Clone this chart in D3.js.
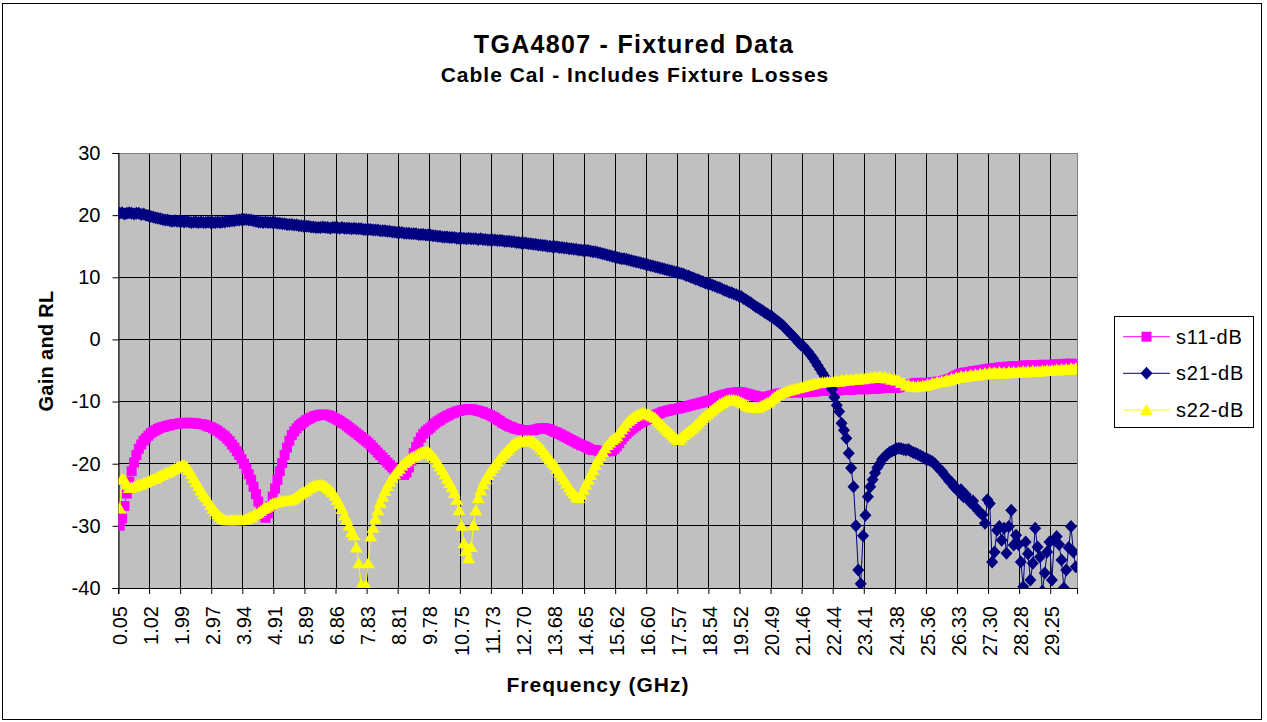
<!DOCTYPE html>
<html><head><meta charset="utf-8">
<script src="https://cdn.jsdelivr.net/npm/d3@7"></script>
<style>
body{margin:0;background:#fff}
svg{display:block}
text{font-family:Arial,"Liberation Sans",sans-serif;fill:#000}
</style>
</head><body>
<svg id="chart" width="1267" height="722"></svg>
<script>
// ---------------- data ----------------
const titleText = "TGA4807 - Fixtured Data";
const subtitleText = "Cable Cal - Includes Fixture Losses";
const xAxisTitle = "Frequency (GHz)";
const yAxisTitle = "Gain and RL";

// frequency labels shown every 13th of the 401 sweep points (GHz)
const tickLabels = ["0.05","1.02","1.99","2.97","3.94","4.91","5.89","6.86","7.83","8.81",
  "9.78","10.75","11.73","12.70","13.68","14.65","15.62","16.60","17.57","18.54",
  "19.52","20.49","21.46","22.44","23.41","24.38","25.36","26.33","27.30","28.28","29.25"];
const labelEvery = 13;
const yTicks = [-40,-30,-20,-10,0,10,20,30];

const seriesNames = ["s11-dB","s21-dB","s22-dB"];

const s11 = [
-30.0,-28.8,-26.8,-24.8,-22.9,-21.2,-19.8,-18.6,-17.6,-16.9,-16.3,-15.9,-15.5,
-15.1,-14.8,-14.6,-14.4,-14.2,-14.1,-14.0,-13.9,-13.8,-13.7,-13.6,-13.6,-13.5,
-13.5,-13.5,-13.4,-13.5,-13.4,-13.5,-13.5,-13.6,-13.6,-13.7,-13.8,-14.0,-14.1,
-14.3,-14.5,-14.7,-15.0,-15.3,-15.6,-16.0,-16.4,-16.9,-17.4,-18.0,-18.6,-19.3,
-20.0,-20.8,-21.7,-22.6,-23.7,-24.9,-26.1,-27.3,-28.3,-28.7,-28.0,-26.8,-25.3,
-24.0,-22.6,-21.2,-19.9,-18.6,-17.4,-16.3,-15.4,-14.8,-14.3,-13.9,-13.6,-13.3,
-13.0,-12.8,-12.6,-12.4,-12.3,-12.2,-12.1,-12.1,-12.1,-12.2,-12.3,-12.5,-12.7,
-12.9,-13.1,-13.4,-13.6,-13.9,-14.2,-14.5,-14.8,-15.1,-15.4,-15.7,-16.0,-16.3,
-16.6,-17.0,-17.4,-17.8,-18.2,-18.6,-19.0,-19.4,-19.8,-20.2,-20.6,-21.0,-21.3,
-21.6,-21.8,-21.8,-21.4,-20.6,-19.5,-18.3,-17.3,-16.5,-15.8,-15.2,-14.8,-14.5,
-14.2,-13.8,-13.5,-13.2,-13.0,-12.7,-12.5,-12.3,-12.1,-11.9,-11.8,-11.6,-11.5,
-11.4,-11.3,-11.3,-11.2,-11.2,-11.3,-11.4,-11.5,-11.6,-11.7,-11.9,-12.0,-12.2,
-12.4,-12.6,-12.9,-13.1,-13.4,-13.6,-13.8,-14.0,-14.1,-14.3,-14.4,-14.5,-14.6,
-14.6,-14.6,-14.6,-14.6,-14.6,-14.5,-14.4,-14.3,-14.3,-14.3,-14.4,-14.5,-14.7,
-14.9,-15.0,-15.2,-15.4,-15.6,-15.8,-16.0,-16.2,-16.4,-16.6,-16.8,-17.0,-17.1,
-17.3,-17.5,-17.7,-17.8,-17.8,-17.9,-18.0,-18.0,-18.1,-18.0,-18.0,-17.9,-17.6,
-17.2,-16.7,-16.1,-15.6,-15.2,-14.8,-14.5,-14.2,-13.9,-13.6,-13.4,-13.2,-13.0,
-12.8,-12.6,-12.4,-12.2,-12.0,-11.9,-11.7,-11.6,-11.5,-11.4,-11.3,-11.2,-11.2,
-11.1,-11.0,-10.9,-10.8,-10.7,-10.6,-10.5,-10.4,-10.3,-10.2,-10.1,-10.0,-9.9,
-9.8,-9.6,-9.4,-9.3,-9.1,-9.0,-8.9,-8.8,-8.7,-8.6,-8.6,-8.5,-8.5,
-8.5,-8.6,-8.7,-8.8,-8.9,-9.0,-9.1,-9.2,-9.3,-9.3,-9.3,-9.2,-9.1,
-9.0,-8.9,-8.8,-8.7,-8.7,-8.6,-8.6,-8.5,-8.5,-8.5,-8.5,-8.5,-8.5,
-8.5,-8.5,-8.4,-8.4,-8.4,-8.4,-8.3,-8.3,-8.3,-8.3,-8.3,-8.2,-8.2,
-8.2,-8.2,-8.2,-8.1,-8.1,-8.1,-8.1,-8.1,-8.0,-8.0,-8.0,-8.0,-8.0,
-8.0,-8.0,-7.9,-7.9,-7.9,-7.9,-7.9,-7.8,-7.8,-7.8,-7.8,-7.8,-7.8,
-7.8,-7.7,-7.6,-7.5,-7.4,-7.3,-7.2,-7.1,-7.0,-7.0,-7.0,-7.0,-7.0,
-7.0,-7.0,-6.9,-6.9,-6.8,-6.8,-6.7,-6.6,-6.5,-6.4,-6.2,-6.0,-5.8,
-5.6,-5.5,-5.4,-5.3,-5.3,-5.2,-5.1,-5.1,-5.0,-5.0,-4.9,-4.8,-4.8,
-4.7,-4.7,-4.6,-4.6,-4.5,-4.5,-4.5,-4.4,-4.4,-4.4,-4.3,-4.3,-4.3,
-4.3,-4.2,-4.2,-4.2,-4.2,-4.2,-4.2,-4.2,-4.1,-4.1,-4.1,-4.1,-4.1,
-4.1,-4.0,-4.1,-4.0,-4.0,-4.0,-3.9,-4.0,-3.9,-4.0,-4.0];

const s21 = [
20.3,20.4,20.2,20.3,20.4,20.3,20.2,20.3,20.3,20.1,20.2,20.0,19.9,
19.8,19.7,19.6,19.5,19.4,19.3,19.2,19.2,19.1,19.0,19.1,19.0,19.0,
19.0,18.9,19.0,18.9,18.8,18.9,18.9,18.8,18.9,18.8,18.8,18.9,18.8,
18.8,18.8,18.9,18.8,18.9,18.9,19.0,19.0,19.1,19.1,19.2,19.2,19.3,
19.3,19.3,19.2,19.2,19.1,19.0,18.9,18.9,18.8,18.9,18.8,18.8,18.8,
18.8,18.7,18.7,18.6,18.6,18.5,18.5,18.5,18.4,18.4,18.3,18.3,18.2,
18.2,18.2,18.1,18.1,18.0,18.0,18.0,18.1,18.0,18.0,17.9,18.0,18.0,
18.0,17.9,18.0,17.9,17.9,17.9,17.8,17.9,17.8,17.8,17.8,17.7,17.7,
17.7,17.7,17.6,17.6,17.6,17.5,17.5,17.5,17.4,17.4,17.3,17.3,17.2,
17.2,17.2,17.1,17.1,17.1,17.0,17.0,17.0,16.9,16.9,16.9,16.8,16.8,
16.8,16.7,16.7,16.6,16.6,16.5,16.5,16.5,16.4,16.4,16.4,16.3,16.3,
16.3,16.3,16.2,16.3,16.2,16.2,16.2,16.1,16.2,16.1,16.1,16.0,16.0,
16.0,16.0,15.9,15.9,15.9,15.8,15.8,15.8,15.7,15.7,15.6,15.6,15.5,
15.5,15.5,15.4,15.4,15.3,15.3,15.2,15.2,15.1,15.1,15.0,15.0,14.9,
14.9,14.9,14.8,14.8,14.7,14.7,14.6,14.6,14.5,14.5,14.4,14.4,14.3,
14.3,14.3,14.2,14.1,14.1,14.0,13.9,13.8,13.7,13.6,13.5,13.4,13.3,
13.2,13.1,13.0,13.0,12.9,12.8,12.7,12.6,12.5,12.4,12.3,12.2,12.1,
12.0,11.9,11.8,11.7,11.6,11.5,11.4,11.3,11.2,11.1,11.0,10.9,10.8,
10.7,10.6,10.5,10.3,10.2,10.0,9.9,9.7,9.6,9.4,9.3,9.1,9.0,
8.9,8.7,8.6,8.4,8.3,8.1,7.9,7.8,7.6,7.5,7.3,7.2,7.0,
6.9,6.6,6.4,6.1,5.9,5.6,5.3,5.1,4.8,4.6,4.3,4.1,3.8,
3.6,3.3,3.0,2.7,2.4,2.0,1.6,1.2,0.8,0.4,0.0,-0.5,-0.9,
-1.1,-1.6,-2.0,-2.5,-3.0,-3.6,-4.2,-4.8,-5.4,-6.0,-6.6,-7.3,-8.0,
-9.3,-10.6,-11.6,-13.5,-14.6,-15.9,-18.3,-20.7,-23.7,-30.0,-37.1,-39.3,-31.6,
-28.3,-25.3,-23.7,-22.6,-21.5,-20.6,-20.0,-19.3,-18.9,-18.5,-18.2,-18.0,-17.8,
-17.6,-17.5,-17.6,-17.7,-17.8,-17.7,-18.0,-18.2,-18.3,-18.5,-18.7,-18.9,-19.2,
-19.3,-19.5,-19.7,-20.0,-20.5,-20.9,-21.2,-21.8,-22.2,-22.8,-23.0,-23.7,-23.9,
-24.5,-24.2,-25.3,-25.0,-25.8,-26.3,-26.0,-27.0,-27.5,-27.9,-28.2,-29.6,-25.8,
-26.4,-35.8,-34.2,-30.7,-30.1,-32.3,-30.4,-34.4,-30.1,-27.5,-33.1,-31.5,-33.0,
-35.8,-39.8,-32.6,-34.5,-38.7,-36.0,-30.4,-33.4,-35.0,-40.5,-37.6,-34.2,-32.6,
-38.7,-32.3,-31.7,-33.0,-35.5,-40.0,-37.1,-33.5,-30.1,-34.2,-36.6];

const s22 = [
-27.2,-22.4,-22.6,-23.4,-23.9,-23.8,-23.7,-23.6,-23.4,-23.3,-23.1,-23.0,-22.8,
-22.6,-22.4,-22.4,-22.1,-21.9,-21.8,-21.5,-21.4,-21.2,-21.0,-20.8,-20.6,-20.4,
-20.2,-20.3,-20.5,-21.0,-21.6,-22.3,-23.0,-23.6,-24.3,-24.9,-25.4,-26.0,-26.6,
-27.2,-27.7,-28.1,-28.5,-28.8,-29.0,-29.1,-29.1,-29.0,-29.1,-29.0,-29.1,-29.0,
-29.0,-28.9,-28.7,-28.6,-28.3,-28.1,-27.9,-27.6,-27.3,-27.1,-26.9,-26.6,-26.4,
-26.3,-26.2,-26.1,-26.0,-26.0,-25.9,-25.9,-25.8,-25.6,-25.3,-25.0,-24.7,-24.5,
-24.3,-24.0,-23.8,-23.6,-23.5,-23.4,-23.4,-23.5,-23.6,-23.9,-24.2,-24.6,-25.1,
-25.8,-26.5,-27.3,-28.3,-29.0,-30.0,-31.0,-31.5,-33.5,-36.0,-39.5,-40.2,-39.5,
-36.0,-31.7,-30.3,-28.8,-27.5,-26.3,-25.3,-24.4,-23.6,-22.9,-22.2,-21.7,-21.2,
-20.8,-20.3,-19.9,-19.6,-19.3,-19.0,-18.8,-18.6,-18.4,-18.2,-18.1,-18.0,-18.0,
-18.4,-18.8,-19.2,-19.8,-20.4,-21.0,-21.7,-22.4,-23.1,-23.8,-24.7,-25.8,-27.5,
-30.0,-32.8,-34.0,-35.2,-33.4,-29.9,-27.5,-25.5,-24.3,-23.3,-22.5,-21.8,-21.2,
-20.7,-20.2,-19.7,-19.2,-18.7,-18.3,-17.9,-17.5,-17.1,-16.8,-16.6,-16.5,-16.4,
-16.4,-16.3,-16.3,-16.4,-16.4,-16.7,-17.0,-17.4,-17.8,-18.3,-18.8,-19.3,-19.8,
-20.2,-20.8,-21.4,-22.0,-22.6,-23.2,-23.8,-24.3,-24.8,-25.3,-25.5,-25.0,-24.2,
-23.4,-22.6,-21.8,-21.0,-20.2,-19.4,-18.7,-18.1,-17.5,-17.0,-16.6,-16.2,-15.9,
-15.6,-15.0,-14.5,-14.0,-13.5,-13.1,-12.8,-12.5,-12.3,-12.1,-11.9,-11.8,-11.9,
-12.0,-12.2,-12.4,-12.6,-13.0,-13.4,-13.8,-14.2,-14.6,-14.9,-15.3,-15.7,-16.0,
-16.2,-15.8,-15.4,-15.1,-14.8,-14.5,-14.2,-13.8,-13.4,-13.0,-12.6,-12.3,-12.0,
-11.6,-11.3,-11.0,-10.7,-10.4,-10.2,-10.0,-9.8,-9.7,-9.7,-9.7,-9.8,-9.9,
-10.1,-10.3,-10.6,-10.8,-10.9,-11.0,-11.0,-11.0,-10.8,-10.6,-10.4,-10.2,-10.0,
-9.6,-9.3,-9.0,-8.8,-8.6,-8.5,-8.3,-8.2,-8.1,-8.0,-7.9,-7.8,-7.7,
-7.6,-7.5,-7.4,-7.3,-7.2,-7.1,-7.0,-7.0,-6.9,-6.9,-6.8,-6.8,-6.8,
-6.8,-6.6,-6.8,-6.5,-6.7,-6.4,-6.6,-6.4,-6.5,-6.3,-6.5,-6.2,-6.4,
-6.2,-6.3,-6.1,-6.2,-6.0,-6.1,-5.9,-6.2,-6.0,-6.3,-6.2,-6.5,-6.3,
-6.6,-6.6,-7.0,-7.0,-7.4,-7.3,-7.6,-7.5,-7.7,-7.5,-7.6,-7.4,-7.5,
-7.2,-7.3,-7.0,-7.1,-6.8,-6.9,-6.7,-6.8,-6.5,-6.6,-6.3,-6.4,-6.1,
-6.2,-5.9,-6.1,-5.8,-6.0,-5.7,-5.9,-5.6,-5.8,-5.5,-5.7,-5.4,-5.6,
-5.3,-5.5,-5.3,-5.5,-5.2,-5.5,-5.3,-5.5,-5.2,-5.4,-5.2,-5.4,-5.2,
-5.3,-5.1,-5.3,-5.1,-5.3,-5.0,-5.2,-5.1,-5.2,-5.0,-5.1,-4.9,-5.1,
-4.9,-5.0,-4.8,-5.0,-4.8,-4.9,-4.7,-4.9,-4.6,-4.8,-4.6];

// ---------------- drawing ----------------
const colors = ["#FF00FF","#000080","#FFFF00"];
const markers = {
  square: "M-5,-5L5,-5L5,5L-5,5Z",
  diamond: "M0,-6.5L6,0L0,6.5L-6,0Z",
  triangle: "M0,-6L6.5,5L-6.5,5Z"
};
const markerOf = ["square","diamond","triangle"];
const seriesData = [s11, s21, s22];

const plot = {left:118.5, right:1077, top:153, bottom:588};
const svg = d3.select("#chart");

// chart area border
svg.append("rect").attr("x",2.5).attr("y",3.5).attr("width",1259).attr("height",716)
  .attr("fill","#fff").attr("stroke","#000").attr("stroke-width",1);

const idx = d3.range(s11.length);
const x = d3.scaleBand().domain(idx).range([plot.left, plot.right]).padding(0);
const cx = i => x(i) + x.bandwidth()/2;
const y = d3.scaleLinear().domain([-40,30]).range([plot.bottom, plot.top]);

// plot background
svg.append("rect").attr("x",plot.left).attr("y",plot.top)
  .attr("width",plot.right-plot.left).attr("height",plot.bottom-plot.top)
  .attr("fill","#C0C0C0");

const tickIdx = tickLabels.map((d,k) => k*labelEvery);

// gridlines
const grid = svg.append("g").attr("stroke","#000").attr("stroke-width",1).attr("shape-rendering","crispEdges");
yTicks.forEach(v => grid.append("line").attr("x1",plot.left).attr("x2",plot.right).attr("y1",y(v)).attr("y2",y(v)));
tickIdx.forEach(i => grid.append("line").attr("x1",x(i)).attr("x2",x(i)).attr("y1",plot.top).attr("y2",plot.bottom));

// plot border
svg.append("rect").attr("x",plot.left).attr("y",plot.top)
  .attr("width",plot.right-plot.left).attr("height",plot.bottom-plot.top)
  .attr("fill","none").attr("stroke","#808080").attr("shape-rendering","crispEdges");

// axes
const yAxis = d3.axisLeft(y).tickValues(yTicks).tickSize(6).tickPadding(12).tickFormat(d => String(d));
const gy = svg.append("g").attr("transform",`translate(${plot.left},0)`).call(yAxis);
gy.select(".domain").attr("stroke","#000");
gy.selectAll(".tick line").attr("stroke","#000");
gy.selectAll("text").attr("font-size",20).attr("font-family","Arial, 'Liberation Sans', sans-serif");

const xAxis = d3.axisBottom(x).tickValues(tickIdx).tickSize(6).tickFormat((d,k)=>tickLabels[k]);
const gx = svg.append("g").attr("transform",`translate(0,${plot.bottom})`).call(xAxis);
gx.select(".domain").attr("stroke","#000");
gx.selectAll(".tick").attr("transform", d => `translate(${x(d)},0)`);
gx.selectAll(".tick line").attr("stroke","#000");
gx.selectAll(".tick text")
  .attr("font-size",20).attr("font-family","Arial, 'Liberation Sans', sans-serif")
  .attr("text-anchor","end").attr("transform","rotate(-90)")
  .attr("x",-18).attr("y",x.bandwidth()/2).attr("dy","0.35em");

// series
svg.append("clipPath").attr("id","pc").append("rect")
  .attr("x",plot.left).attr("y",plot.top).attr("width",plot.right-plot.left).attr("height",plot.bottom-plot.top);
const line = d3.line().x((d,i)=>cx(i)).y(d=>y(d));
const gs = svg.append("g").attr("clip-path","url(#pc)");
seriesData.forEach((data,s) => {
  const g = gs.append("g");
  g.append("path").datum(data).attr("d",line).attr("fill","none")
    .attr("stroke",colors[s]).attr("stroke-width",1);
  g.selectAll("path.m").data(data).enter().append("path").attr("class","m")
    .attr("d",markers[markerOf[s]])
    .attr("transform",(d,i)=>`translate(${cx(i)},${y(d)})`)
    .attr("fill",colors[s]);
});

// titles
svg.append("text").attr("x",634).attr("y",53).attr("text-anchor","middle")
  .attr("font-size",25).attr("font-weight","bold").attr("letter-spacing",1.3).text(titleText);
svg.append("text").attr("x",635).attr("y",82).attr("text-anchor","middle")
  .attr("font-size",21).attr("font-weight","bold").attr("letter-spacing",1.0).text(subtitleText);
svg.append("text").attr("x",598).attr("y",692).attr("text-anchor","middle")
  .attr("font-size",21).attr("font-weight","bold").attr("letter-spacing",1.0).text(xAxisTitle);
svg.append("text").attr("transform","translate(53,351) rotate(-90)").attr("text-anchor","middle")
  .attr("font-size",20).attr("font-weight","bold").attr("letter-spacing",0.3).text(yAxisTitle);

// legend
const lg = svg.append("g");
lg.append("rect").attr("x",1114.5).attr("y",316.5).attr("width",139).attr("height",111)
  .attr("fill","#fff").attr("stroke","#000");
const legY = [336.7,373.3,410];
seriesNames.forEach((n,s)=>{
  lg.append("line").attr("x1",1123).attr("x2",1170).attr("y1",legY[s]).attr("y2",legY[s])
    .attr("stroke",colors[s]).attr("stroke-width",1);
  lg.append("path").attr("d",markers[markerOf[s]]).attr("transform",`translate(1146.5,${legY[s]})`)
    .attr("fill",colors[s]);
  lg.append("text").attr("x",1176).attr("y",legY[s]).attr("dy","0.35em")
    .attr("font-size",20).attr("letter-spacing",0.8).text(n);
});
</script>
</body></html>
